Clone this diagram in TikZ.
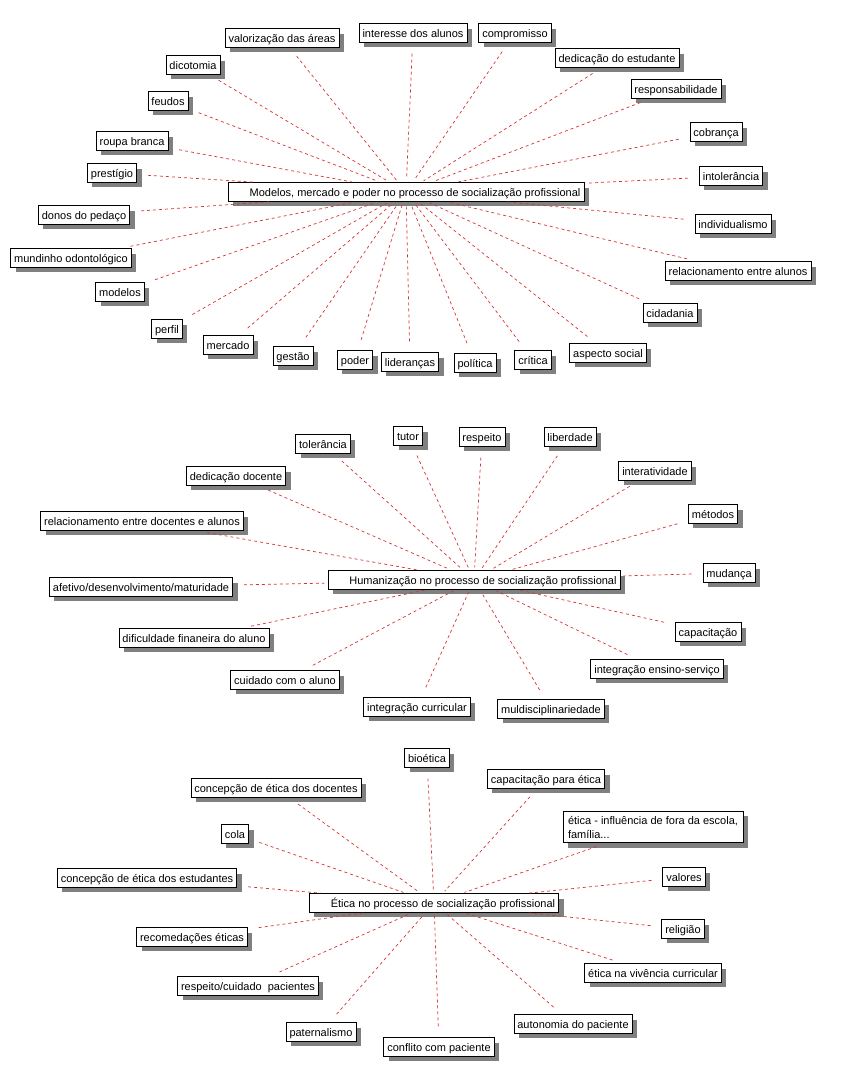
\documentclass[tikz,border=0pt]{standalone}
\usepackage{fontspec}
\setmainfont{Liberation Sans}
\usetikzlibrary{shadows}
\definecolor{linkred}{RGB}{215,50,50}
\tikzset{
  tag/.style={draw=black, line width=0.7pt, fill=white, inner xsep=3.5pt, inner ysep=0pt,
    minimum height=18.5pt, text height=9.5pt, text depth=1pt,
    font=\fontsize{11}{14}\selectfont,
    drop shadow={shadow xshift=5pt, shadow yshift=-5pt, fill=black!50, opacity=1}},
  hub/.style={tag},
  link/.style={draw=linkred, line width=0.7pt, dash pattern=on 3pt off 3pt,
    shorten <=11pt, shorten >=3pt},
}
\begin{document}
\begin{tikzpicture}[x=1pt,y=-1pt]
\useasboundingbox (0,0) rectangle (851,1075);
% ---------- cluster 1 ----------
\node[hub] (c1) at (406,192) {\hspace*{18pt}Modelos, mercado e poder no processo de socialização profissional};
\node[tag] (a1) at (282,38) {valorização das áreas};
\node[tag] (a2) at (413,33) {interesse dos alunos};
\node[tag] (a3) at (515,33) {compromisso};
\node[tag] (a4) at (617,58) {dedicação do estudante};
\node[tag] (a5) at (676,89) {responsabilidade};
\node[tag] (a6) at (716,132) {cobrança};
\node[tag] (a7) at (731,176) {intolerância};
\node[tag] (a8) at (733,224) {individualismo};
\node[tag] (a9) at (738,271) {relacionamento entre alunos};
\node[tag] (a10) at (670,313) {cidadania};
\node[tag] (a11) at (608,353) {aspecto social};
\node[tag] (a12) at (533,360) {crítica};
\node[tag] (a13) at (475,363) {política};
\node[tag] (a14) at (410,362) {lideranças};
\node[tag] (a15) at (355,360) {poder};
\node[tag] (a16) at (293,356) {gestão};
\node[tag] (a17) at (228,345) {mercado};
\node[tag] (a18) at (167,329) {perfil};
\node[tag] (a19) at (120,292) {modelos};
\node[tag] (a20) at (71,258) {mundinho odontológico};
\node[tag] (a21) at (84,215) {donos do pedaço};
\node[tag] (a22) at (112,173) {prestígio};
\node[tag] (a23) at (132,141) {roupa branca};
\node[tag] (a24) at (168,101) {feudos};
\node[tag] (a25) at (193,65) {dicotomia};
\foreach \i in {1,...,25} \draw[link] (a\i) -- (c1);
% ---------- cluster 2 ----------
\node[hub] (c2) at (474,580) {\hspace*{18pt}Humanização no processo de socialização profissional};
\node[tag] (b1) at (323,444) {tolerância};
\node[tag] (b2) at (408,436) {tutor};
\node[tag] (b3) at (482,437) {respeito};
\node[tag] (b4) at (570,437) {liberdade};
\node[tag] (b5) at (655,471) {interatividade};
\node[tag] (b6) at (713,514) {métodos};
\node[tag] (b7) at (729,573) {mudança};
\node[tag] (b8) at (708,632) {capacitação};
\node[tag] (b9) at (657,669) {integração ensino-serviço};
\node[tag] (b10) at (551,709) {muldisciplinariedade};
\node[tag] (b11) at (417,707) {integração curricular};
\node[tag] (b12) at (285,680) {cuidado com o aluno};
\node[tag] (b13) at (194,638) {dificuldade finaneira do aluno};
\node[tag] (b14) at (141,587) {afetivo/desenvolvimento/maturidade};
\node[tag] (b15) at (142,521) {relacionamento entre docentes e alunos};
\node[tag] (b16) at (236,476) {dedicação docente};
\foreach \i in {1,...,16} \draw[link] (b\i) -- (c2);
% ---------- cluster 3 ----------
\node[hub] (c3) at (434,903) {\hspace*{18pt}Ética no processo de socialização profissional};
\node[tag] (d1) at (427,758) {bioética};
\node[tag] (d2) at (546,779) {capacitação para ética};
\node[tag, align=left, text height=, text depth=, inner xsep=5pt, inner ysep=4.5pt] (d3) at (653,827) {ética - influência de fora da escola,\\família...};
\node[tag] (d4) at (684,877) {valores};
\node[tag] (d5) at (683,929) {religião};
\node[tag] (d6) at (653,973) {ética na vivência curricular};
\node[tag] (d7) at (573,1024) {autonomia do paciente};
\node[tag] (d8) at (439,1047) {conflito com paciente};
\node[tag] (d9) at (321,1032) {paternalismo};
\node[tag] (d10) at (248,986) {respeito/cuidado\ \ pacientes};
\node[tag] (d11) at (192,937) {recomedações éticas};
\node[tag] (d12) at (147,878) {concepção de ética dos estudantes};
\node[tag] (d13) at (235,834) {cola};
\node[tag] (d14) at (276,788) {concepção de ética dos docentes};
\foreach \i in {1,...,14} \draw[link] (d\i) -- (c3);
\end{tikzpicture}
\end{document}
